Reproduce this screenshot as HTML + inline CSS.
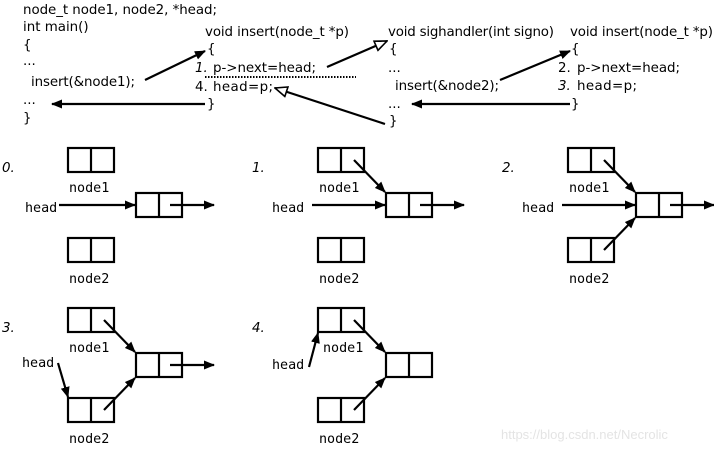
<!DOCTYPE html>
<html><head><meta charset="utf-8"><style>
html,body{margin:0;padding:0;background:#fff;}
svg{display:block;}
text{font-family:"DejaVu Sans","Liberation Sans",sans-serif;font-size:13.4px;fill:#000;}
.m{font-family:"DejaVu Sans Mono","Liberation Mono",monospace;font-size:13.4px;}
.i{font-style:italic;}
</style></head><body>
<svg width="714" height="453" viewBox="0 0 714 453" xmlns="http://www.w3.org/2000/svg">
<defs>
<marker id="f" markerWidth="11" markerHeight="9" refX="10" refY="4.5" orient="auto" markerUnits="userSpaceOnUse"><path d="M0,0 L11,4.5 L0,9 z" fill="#000"/></marker>
<marker id="o" markerWidth="14" markerHeight="12" refX="13" refY="6" orient="auto" markerUnits="userSpaceOnUse"><path d="M1,1 L13,6 L1,11 z" fill="#fff" stroke="#000" stroke-width="1.6"/></marker>
<g id="box"><rect x="0" y="0" width="46" height="24" fill="#fff" stroke="#000" stroke-width="2.2"/><line x1="23" y1="0" x2="23" y2="24" stroke="#000" stroke-width="2.2"/></g>
</defs>
<text x="23" y="14" textLength="194">node_t node1, node2, *head;</text>
<text x="23" y="31">int main()</text>
<text x="23" y="49">{</text>
<text x="23" y="65">...</text>
<text x="31" y="86" textLength="104">insert(&amp;node1);</text>
<text x="23" y="104">...</text>
<text x="23" y="122">}</text>

<text x="205" y="36" textLength="144">void insert(node_t *p)</text>
<text x="207" y="53">{</text>
<text x="195" y="72" class="i">1.</text><text x="213" y="72" textLength="103">p-&gt;next=head;</text>
<line x1="205" y1="77" x2="356" y2="77" stroke="#000" stroke-width="2" stroke-dasharray="1.5,1.5"/>
<text x="195" y="91">4.</text><text x="213" y="91" textLength="60">head=p;</text>
<text x="207" y="108">}</text>

<text x="388" y="36" textLength="166">void sighandler(int signo)</text>
<text x="389" y="53">{</text>
<text x="388" y="72">...</text>
<text x="395" y="90" textLength="104">insert(&amp;node2);</text>
<text x="388" y="108">...</text>
<text x="389" y="125">}</text>

<text x="570" y="36" textLength="143">void insert(node_t *p)</text>
<text x="571" y="53">{</text>
<text x="558" y="72">2.</text><text x="577" y="72" textLength="103">p-&gt;next=head;</text>
<text x="558" y="90" class="i">3.</text><text x="577" y="90" textLength="60">head=p;</text>
<text x="571" y="108">}</text>

<g stroke="#000" stroke-width="2.2" fill="none">
<line x1="145" y1="80" x2="205" y2="51" marker-end="url(#f)"/>
<line x1="205" y1="104" x2="52" y2="104" marker-end="url(#f)"/>
<line x1="327" y1="67" x2="387" y2="41" marker-end="url(#o)"/>
<line x1="385" y1="124" x2="275" y2="88" marker-end="url(#o)"/>
<line x1="500" y1="80" x2="570" y2="51" marker-end="url(#f)"/>
<line x1="570" y1="104" x2="412" y2="104" marker-end="url(#f)"/>
</g>

<g>
<text x="2" y="172" class="i">0.</text>
<use href="#box" x="68" y="148"/><text x="69" y="192" class="m">node1</text>
<use href="#box" x="136" y="193"/>
<use href="#box" x="68" y="238"/><text x="69" y="283" class="m">node2</text>
<text x="25" y="212" class="m">head</text>
<g stroke="#000" stroke-width="2.2"><line x1="59" y1="205" x2="135" y2="205" marker-end="url(#f)"/><line x1="170" y1="205" x2="214" y2="205" marker-end="url(#f)"/></g>
</g>
<g transform="translate(250,0)">
<text x="2" y="172" class="i">1.</text>
<use href="#box" x="68" y="148"/><text x="69" y="192" class="m">node1</text>
<use href="#box" x="136" y="193"/>
<use href="#box" x="68" y="238"/><text x="69" y="283" class="m">node2</text>
<text x="22" y="212" class="m">head</text>
<g stroke="#000" stroke-width="2.2"><line x1="62" y1="205" x2="135" y2="205" marker-end="url(#f)"/><line x1="170" y1="205" x2="214" y2="205" marker-end="url(#f)"/><line x1="104" y1="160" x2="135" y2="192" marker-end="url(#f)"/></g>
</g>
<g transform="translate(500,0)">
<text x="2" y="172" class="i">2.</text>
<use href="#box" x="68" y="148"/><text x="69" y="192" class="m">node1</text>
<use href="#box" x="136" y="193"/>
<use href="#box" x="68" y="238"/><text x="69" y="283" class="m">node2</text>
<text x="22" y="212" class="m">head</text>
<g stroke="#000" stroke-width="2.2"><line x1="62" y1="205" x2="135" y2="205" marker-end="url(#f)"/><line x1="170" y1="205" x2="214" y2="205" marker-end="url(#f)"/><line x1="104" y1="160" x2="135" y2="192" marker-end="url(#f)"/><line x1="104" y1="250" x2="135" y2="218" marker-end="url(#f)"/></g>
</g>
<g transform="translate(0,160)">
<text x="2" y="172" class="i">3.</text>
<use href="#box" x="68" y="148"/><text x="69" y="192" class="m">node1</text>
<use href="#box" x="136" y="193"/>
<use href="#box" x="68" y="238"/><text x="69" y="283" class="m">node2</text>
<text x="22" y="207" class="m">head</text>
<g stroke="#000" stroke-width="2.2"><line x1="58" y1="203" x2="68" y2="237" marker-end="url(#f)"/><line x1="170" y1="205" x2="214" y2="205" marker-end="url(#f)"/><line x1="104" y1="160" x2="135" y2="192" marker-end="url(#f)"/><line x1="104" y1="250" x2="135" y2="218" marker-end="url(#f)"/></g>
</g>
<g transform="translate(250,160)">
<text x="2" y="172" class="i">4.</text>
<use href="#box" x="68" y="148"/><text x="73" y="192" class="m">node1</text>
<use href="#box" x="136" y="193"/>
<use href="#box" x="68" y="238"/><text x="69" y="283" class="m">node2</text>
<text x="22" y="209" class="m">head</text>
<g stroke="#000" stroke-width="2.2"><line x1="59" y1="207" x2="68" y2="173" marker-end="url(#f)"/><line x1="104" y1="160" x2="135" y2="192" marker-end="url(#f)"/><line x1="104" y1="250" x2="135" y2="218" marker-end="url(#f)"/></g>
</g>
<text x="501" y="439" style="font-family:'Liberation Sans',sans-serif;font-size:13px;fill:#e4e4e4">https://blog.csdn.net/Necrolic</text>
</svg>
</body></html>
